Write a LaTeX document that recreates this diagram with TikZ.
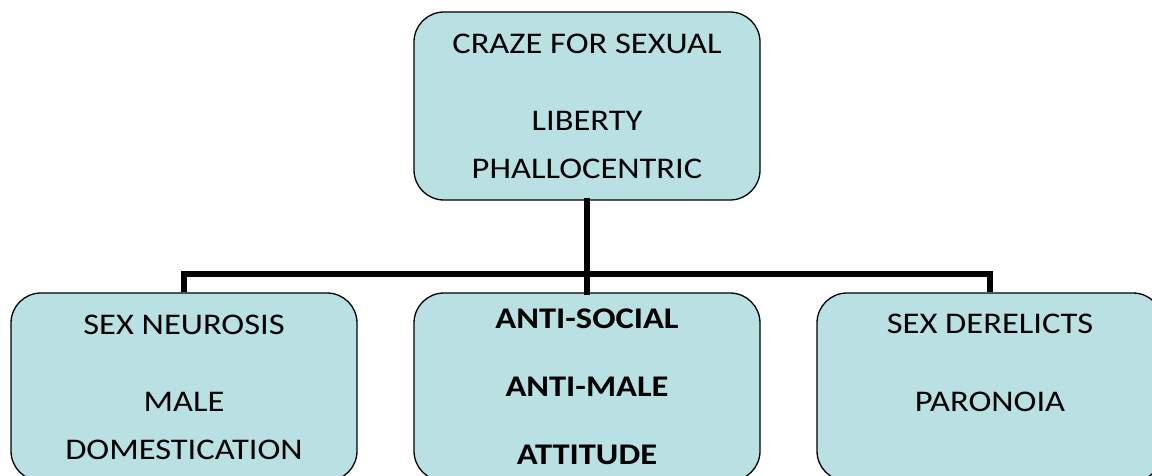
\documentclass[tikz,border=0pt]{standalone}
\usepackage{fontspec}
\setmainfont{Carlito}[FakeStretch=1.15]
\usepackage{tikz}
\usetikzlibrary{calc}
\definecolor{boxfill}{RGB}{185,224,227}
\tikzset{
  topicbox/.style={draw=black, line width=1.3pt, fill=boxfill, rounded corners=30pt,
    minimum width=346pt, minimum height=188pt, inner sep=0pt, align=center,
    font=\fontsize{30}{48}\selectfont},
  linkline/.style={line width=5.5pt, line cap=rect},
}
\begin{document}
\begin{tikzpicture}[x=1pt,y=-1pt]
%define stuff
\def\left{0}
\def\right{1152}
\def\top{0}
\def\bottom{476}
\def\bar{274}
%set bounding box
\useasboundingbox (\left,\top) rectangle (\right,\bottom);
%Top box
\node[topicbox] (craze) at (587,106)
	{CRAZE FOR SEXUAL\\[29pt] LIBERTY\\ PHALLOCENTRIC};
%Bottom row
\node[topicbox] (neurosis) at (184,387)
	{SEX NEUROSIS\\[29pt] MALE\\ DOMESTICATION};
\node[topicbox, font=\fontsize{30}{48}\selectfont\bfseries] (antisocial) at (587,387)
	{ANTI-SOCIAL\\[20pt] ANTI-MALE\\[20pt] ATTITUDE};
\node[topicbox] (derelicts) at (990,387)
	{SEX DERELICTS\\[30pt] PARONOIA\\ \mbox{}};
%Connectors
\coordinate (split) at (587,\bar);
\draw[linkline] (craze.south) -- (antisocial.north);
\draw[linkline, line cap=butt] (neurosis.north) |- (split) -| (derelicts.north);
\end{tikzpicture}
\end{document}
